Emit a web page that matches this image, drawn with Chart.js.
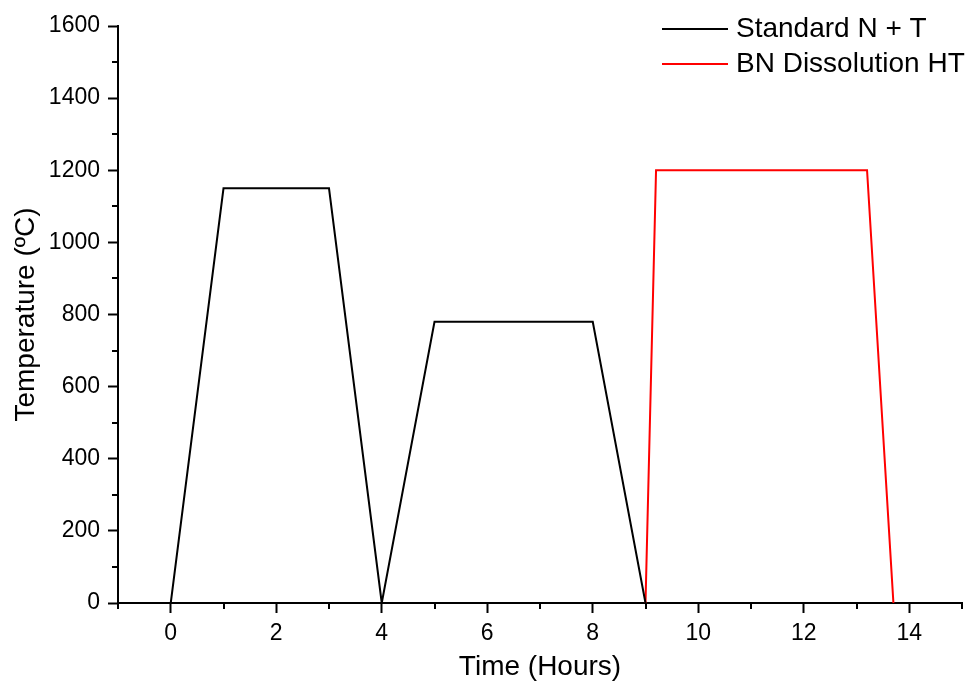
<!DOCTYPE html>
<html>
<head>
<meta charset="utf-8">
<script src="https://cdn.jsdelivr.net/npm/chart.js@4/dist/chart.umd.min.js"></script>
<style>
  html, body { margin: 0; padding: 0; background: #fff; }
  #wrap { width: 973px; height: 681px; }
</style>
</head>
<body>
<div id="wrap"><canvas id="chart" width="973" height="681"></canvas></div>
<script>
// --- DATA ---
const stdTime = [0, 1, 3, 4, 5, 8, 9];
const stdTemp = [0, 1150, 1150, 0, 780, 780, 0];
const bnTime = [9, 9.2, 13.2, 13.7];
const bnTemp = [0, 1200, 1200, 0];

const xTicks = [0, 2, 4, 6, 8, 10, 12, 14];
const xMinorTicks = [-1, 1, 3, 5, 7, 9, 11, 13, 15];
const yTicks = [0, 200, 400, 600, 800, 1000, 1200, 1400, 1600];
const yMinorTicks = [100, 300, 500, 700, 900, 1100, 1300, 1500];

const FONT = '"Liberation Sans", Arial, sans-serif';

function toPoints(xs, ys) {
  return xs.map((x, i) => ({ x: x, y: ys[i] }));
}

// --- MINOR TICKS ---
const minorTicks = {
  id: 'minorTicks',
  afterDraw(chart) {
    const ctx = chart.ctx;
    const xs = chart.scales.x;
    const ys = chart.scales.y;
    ctx.save();
    ctx.strokeStyle = '#000';
    ctx.lineWidth = 2;
    ctx.beginPath();
    xMinorTicks.forEach(v => {
      const px = Math.round(xs.getPixelForValue(v));
      ctx.moveTo(px, xs.top);
      ctx.lineTo(px, xs.top + 6);
    });
    yMinorTicks.forEach(v => {
      const py = Math.round(ys.getPixelForValue(v));
      ctx.moveTo(ys.right, py);
      ctx.lineTo(ys.right - 6, py);
    });
    ctx.stroke();
    ctx.restore();
  }
};

// --- LEGEND (top right, inside plot) ---
const cornerLegend = {
  id: 'cornerLegend',
  afterDraw(chart) {
    const ctx = chart.ctx;
    const right = chart.chartArea.right;
    ctx.save();
    ctx.font = '28px ' + FONT;
    ctx.textBaseline = 'middle';
    ctx.textAlign = 'left';
    chart.data.datasets.forEach((ds, i) => {
      const y = 29 + i * 35;
      ctx.strokeStyle = ds.borderColor;
      ctx.lineWidth = 2;
      ctx.beginPath();
      ctx.moveTo(right - 300, y);
      ctx.lineTo(right - 234, y);
      ctx.stroke();
      ctx.fillStyle = '#000';
      ctx.fillText(ds.label, right - 226, y);
    });
    ctx.restore();
  }
};

new Chart(document.getElementById('chart'), {
  type: 'line',
  data: {
    datasets: [
      {
        label: 'Standard N + T',
        data: toPoints(stdTime, stdTemp),
        borderColor: '#000000',
        borderWidth: 2,
        pointRadius: 0,
        tension: 0,
        fill: false
      },
      {
        label: 'BN Dissolution HT',
        data: toPoints(bnTime, bnTemp),
        borderColor: '#ff0000',
        borderWidth: 2,
        pointRadius: 0,
        tension: 0,
        fill: false
      }
    ]
  },
  options: {
    responsive: false,
    animation: false,
    layout: { padding: { top: 26, right: 11, left: 0, bottom: 0 } },
    plugins: {
      legend: { display: false },
      tooltip: { enabled: false }
    },
    scales: {
      x: {
        type: 'linear',
        min: -1,
        max: 15,
        afterBuildTicks: s => { s.ticks = xTicks.map(v => ({ value: v })); },
        afterFit: s => { s.height = 78; },
        grid: { drawOnChartArea: false, drawTicks: true, tickLength: 10, tickWidth: 2, tickColor: '#000' },
        border: { display: true, color: '#000', width: 2 },
        ticks: {
          color: '#000',
          font: { family: FONT, size: 23 },
          padding: 7,
          maxRotation: 0,
          callback: v => String(v)
        },
        title: {
          display: true,
          text: 'Time (Hours)',
          color: '#000',
          font: { family: FONT, size: 28, lineHeight: 1 },
          padding: { top: 1, bottom: 0 }
        }
      },
      y: {
        min: 0,
        max: 1600,
        afterBuildTicks: s => { s.ticks = yTicks.map(v => ({ value: v })); },
        afterFit: s => { s.width = 118; },
        grid: { drawOnChartArea: false, drawTicks: true, tickLength: 10, tickWidth: 2, tickColor: '#000' },
        border: { display: true, color: '#000', width: 2 },
        ticks: {
          color: '#000',
          font: { family: FONT, size: 23 },
          padding: 8,
          callback: v => String(v)
        },
        title: {
          display: true,
          text: 'Temperature (ºC)',
          color: '#000',
          font: { family: FONT, size: 28, lineHeight: 1 },
          padding: { top: 12, bottom: 0 }
        }
      }
    }
  },
  plugins: [minorTicks, cornerLegend]
});
</script>
</body>
</html>
